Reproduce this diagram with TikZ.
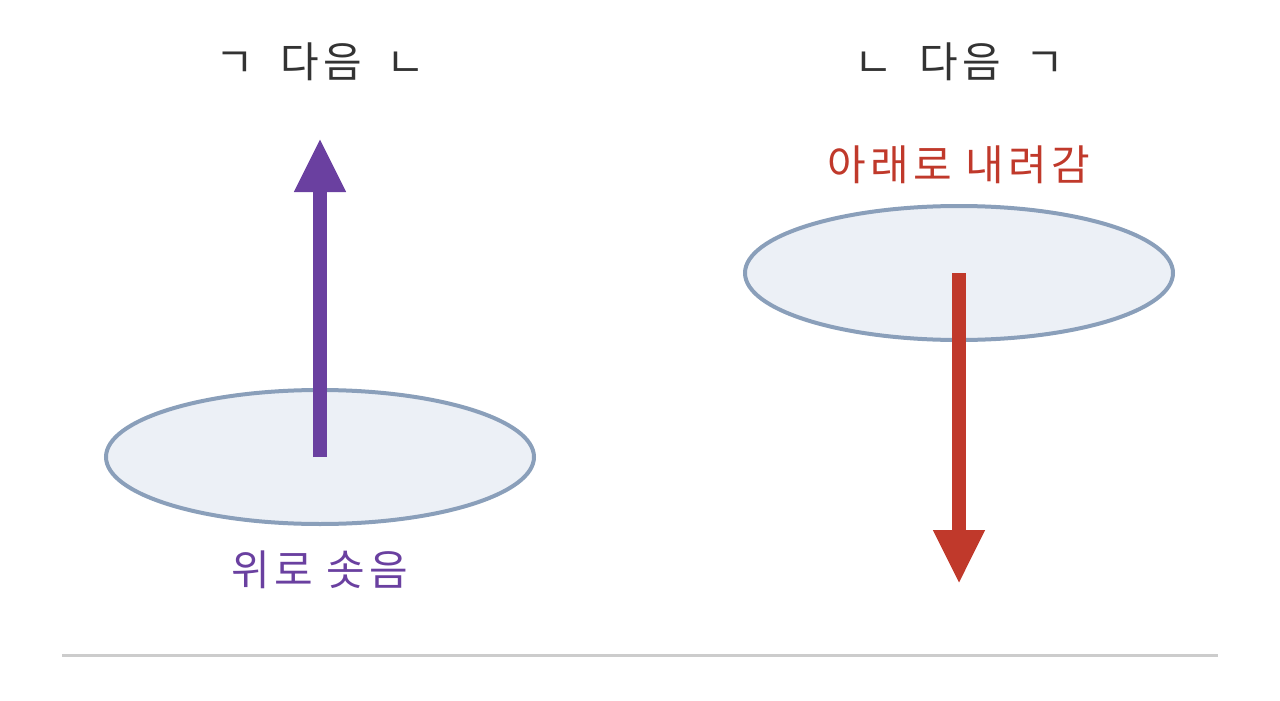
\documentclass[tikz,border=0pt]{standalone}
\usepackage{fontspec}
\setmainfont{Noto Sans CJK KR}
\newfontfamily\spacedfont[LetterSpace=10]{Noto Sans CJK KR}
\usetikzlibrary{shapes.geometric,arrows.meta}
\definecolor{ringline}{HTML}{8A9FBA}
\definecolor{ringfill}{HTML}{ECF0F6}
\definecolor{upcol}{HTML}{6A40A0}
\definecolor{downcol}{HTML}{C0392B}
\definecolor{titlecol}{HTML}{333333}
\definecolor{rulecol}{HTML}{CCCCCC}
\tikzset{
  ring/.style={ellipse, draw=ringline, fill=ringfill, line width=4pt, minimum width=428pt, minimum height=134pt, inner sep=0pt},
  titletext/.style={font=\spacedfont\fontsize{42}{48}\selectfont, text=titlecol, inner sep=0pt},
  labeltext/.style={font=\spacedfont\fontsize{42}{48}\selectfont, inner sep=0pt},
  bigarrow/.style={line width=14pt, -{Triangle[width=48pt,length=54pt]}},
}
\begin{document}
\begin{tikzpicture}[x=1pt,y=-1pt]
\useasboundingbox (0,0) rectangle (1280,701);
\node[titletext] (t1) at (320,62) {ㄱ\hspace{13pt} 다음\hspace{11pt} ㄴ};
\node[titletext] (t2) at (959,62) {ㄴ\hspace{13pt} 다음\hspace{11pt} ㄱ};
\node[ring] (e1) at (320,457) {};
\node[ring] (e2) at (959,273) {};
\coordinate (up) at (320,138);
\coordinate (down) at (959,584);
\draw[bigarrow, upcol] (e1.center) -- (up);
\draw[bigarrow, downcol] (e2.center) -- (down);
\node[labeltext, text=upcol] (l1) at (320,570) {위로 솟음};
\node[labeltext, text=downcol] (l2) at (959,165) {아래로 내려감};
\coordinate (r1) at (62,655);
\coordinate (r2) at (1218,655);
\draw[rulecol, line width=3pt] (r1) -- (r2);
\end{tikzpicture}
\end{document}
